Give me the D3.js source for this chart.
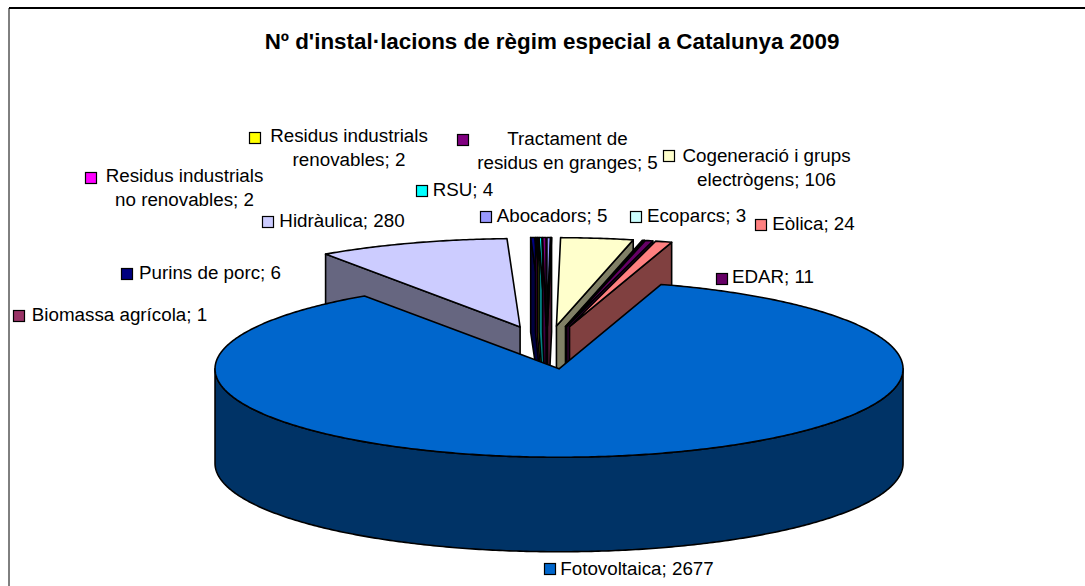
<!DOCTYPE html>
<html><head><meta charset="utf-8">
<script src="https://cdn.jsdelivr.net/npm/d3@7"></script>
<style>html,body{margin:0;background:#fff}svg{display:block}text{font-family:"Liberation Sans",Arial,sans-serif;fill:#000}</style>
</head><body><svg id="c" width="1085" height="586"></svg>
<script>
const title = "Nº d'instal·lacions de règim especial a Catalunya 2009";
const categories = ["Abocadors","Biomassa agrícola","Cogeneració i grups electrògens","Ecoparcs","EDAR","Eòlica","Fotovoltaica","Hidràulica","Purins de porc","Residus industrials no renovables","Residus industrials renovables","RSU","Tractament de residus en granges"];
const values = [5,1,106,3,11,24,2677,280,6,2,2,4,5];
const colors = ["#9999FF","#993366","#FFFFCC","#CCFFFF","#660066","#FF8080","#0066CC","#CCCCFF","#000080","#FF00FF","#FFFF00","#00FFFF","#800080"];
const lineBreakAfterWord = [0,0,3,0,0,0,0,0,0,2,2,0,2];
// layout of each data label: legend key left/top, text centre x, first baseline, line gap
const keyX = [480,13,663,630,716,755,544,262,121,85,249,416,457];
const keyY = [211,310,150,211,273,219,563,216,268,172,132,185,134];
const textCx = [552,119.5,766.5,696.5,773,813.5,637,342,210,184.5,349,463,567.5];
const textY = [222,321,161.5,222,283,230,575,227,279,182,142,196,145];
const lineGap = 24;

const cx = 546.5, cy = 347.5, R = 344, tilt = 0.257, explode = 84, depth = 94.5;
const svg = d3.select("#c");

svg.append("path").attr("d","M9,586V8H1085").attr("fill","none").attr("stroke","#000").attr("stroke-width",1);
svg.append("path").attr("d","M9,8H1085").attr("fill","none").attr("stroke","#000").attr("stroke-width",2);
svg.append("text").attr("x",552).attr("y",49).attr("text-anchor","middle")
  .attr("font-size",22.4).attr("font-weight","bold").text(title);

const arcs = d3.pie().sort(null).startAngle(0).endAngle(2*Math.PI)(values)
  .map((d,i)=>({...d,i}));
const sx = d3.scaleLinear().domain([-1,1]).range([-R,R]);
const sy = d3.scaleLinear().domain([-1,1]).range([-R*tilt,R*tilt]);
const pt = (d,a,r=1,dz=0)=>{
  const mid=(d.startAngle+d.endAngle)/2;
  const ox=cx+explode/R*sx(Math.sin(mid)), oy=cy-explode/R*sy(Math.cos(mid));
  return [ox+r*sx(Math.sin(a)), oy-r*sy(Math.cos(a))+dz];
};
const line = d3.line();
function arcPts(d,a0,a1,dz=0){
  const n=Math.max(2,Math.ceil(Math.abs(a1-a0)/0.01));
  return d3.range(n+1).map(k=>pt(d,a0+(a1-a0)*k/n,1,dz));
}
const big = d3.max(arcs,d=>d.value);
const bigIdx = arcs.findIndex(d=>d.value===big);
const order = d3.range(arcs.length).map(k=>arcs[(bigIdx+1+k)%arcs.length]);
const g = svg.append("g").attr("stroke","#000").attr("stroke-width",1.6).attr("stroke-linejoin","round");
function quad(d,a,fill){
  const p0=pt(d,a,0),p1=pt(d,a,1);
  g.append("path").attr("d",line([p0,p1,[p1[0],p1[1]+depth],[p0[0],p0[1]+depth]])+"Z").attr("fill",fill);
}
order.forEach(d=>{
  const wall = d3.interpolateRgb(colors[d.i],"#000")(0.5);
  if(Math.sin(d.startAngle)<-1e-6) quad(d,d.startAngle,wall);
  if(Math.sin(d.endAngle)>1e-6) quad(d,d.endAngle,wall);
  const a0=Math.max(d.startAngle,Math.PI/2), a1=Math.min(d.endAngle,Math.PI*1.5);
  if(a1>a0){
    const top=arcPts(d,a0,a1), bot=arcPts(d,a1,a0,depth);
    g.append("path").attr("d",line(top.concat(bot))+"Z").attr("fill",wall);
  }
  const outer=arcPts(d,d.startAngle,d.endAngle);
  g.append("path").attr("d",line([pt(d,d.startAngle,0)].concat(outer))+"Z").attr("fill",colors[d.i]);
});

const labels = svg.append("g");
categories.forEach((c,i)=>{
  labels.append("rect").attr("x",keyX[i]+.5).attr("y",keyY[i]+.5).attr("width",11).attr("height",11)
    .attr("fill",colors[i]).attr("stroke","#000").attr("stroke-width",1.2);
  const words=`${c}; ${values[i]}`.split(" "), b=lineBreakAfterWord[i];
  const ls=b?[words.slice(0,b).join(" "),words.slice(b).join(" ")]:[words.join(" ")];
  ls.forEach((s,k)=>labels.append("text").attr("x",textCx[i]).attr("y",textY[i]+k*lineGap)
    .attr("text-anchor","middle").attr("font-size",18.8).text(s));
});
</script></body></html>
